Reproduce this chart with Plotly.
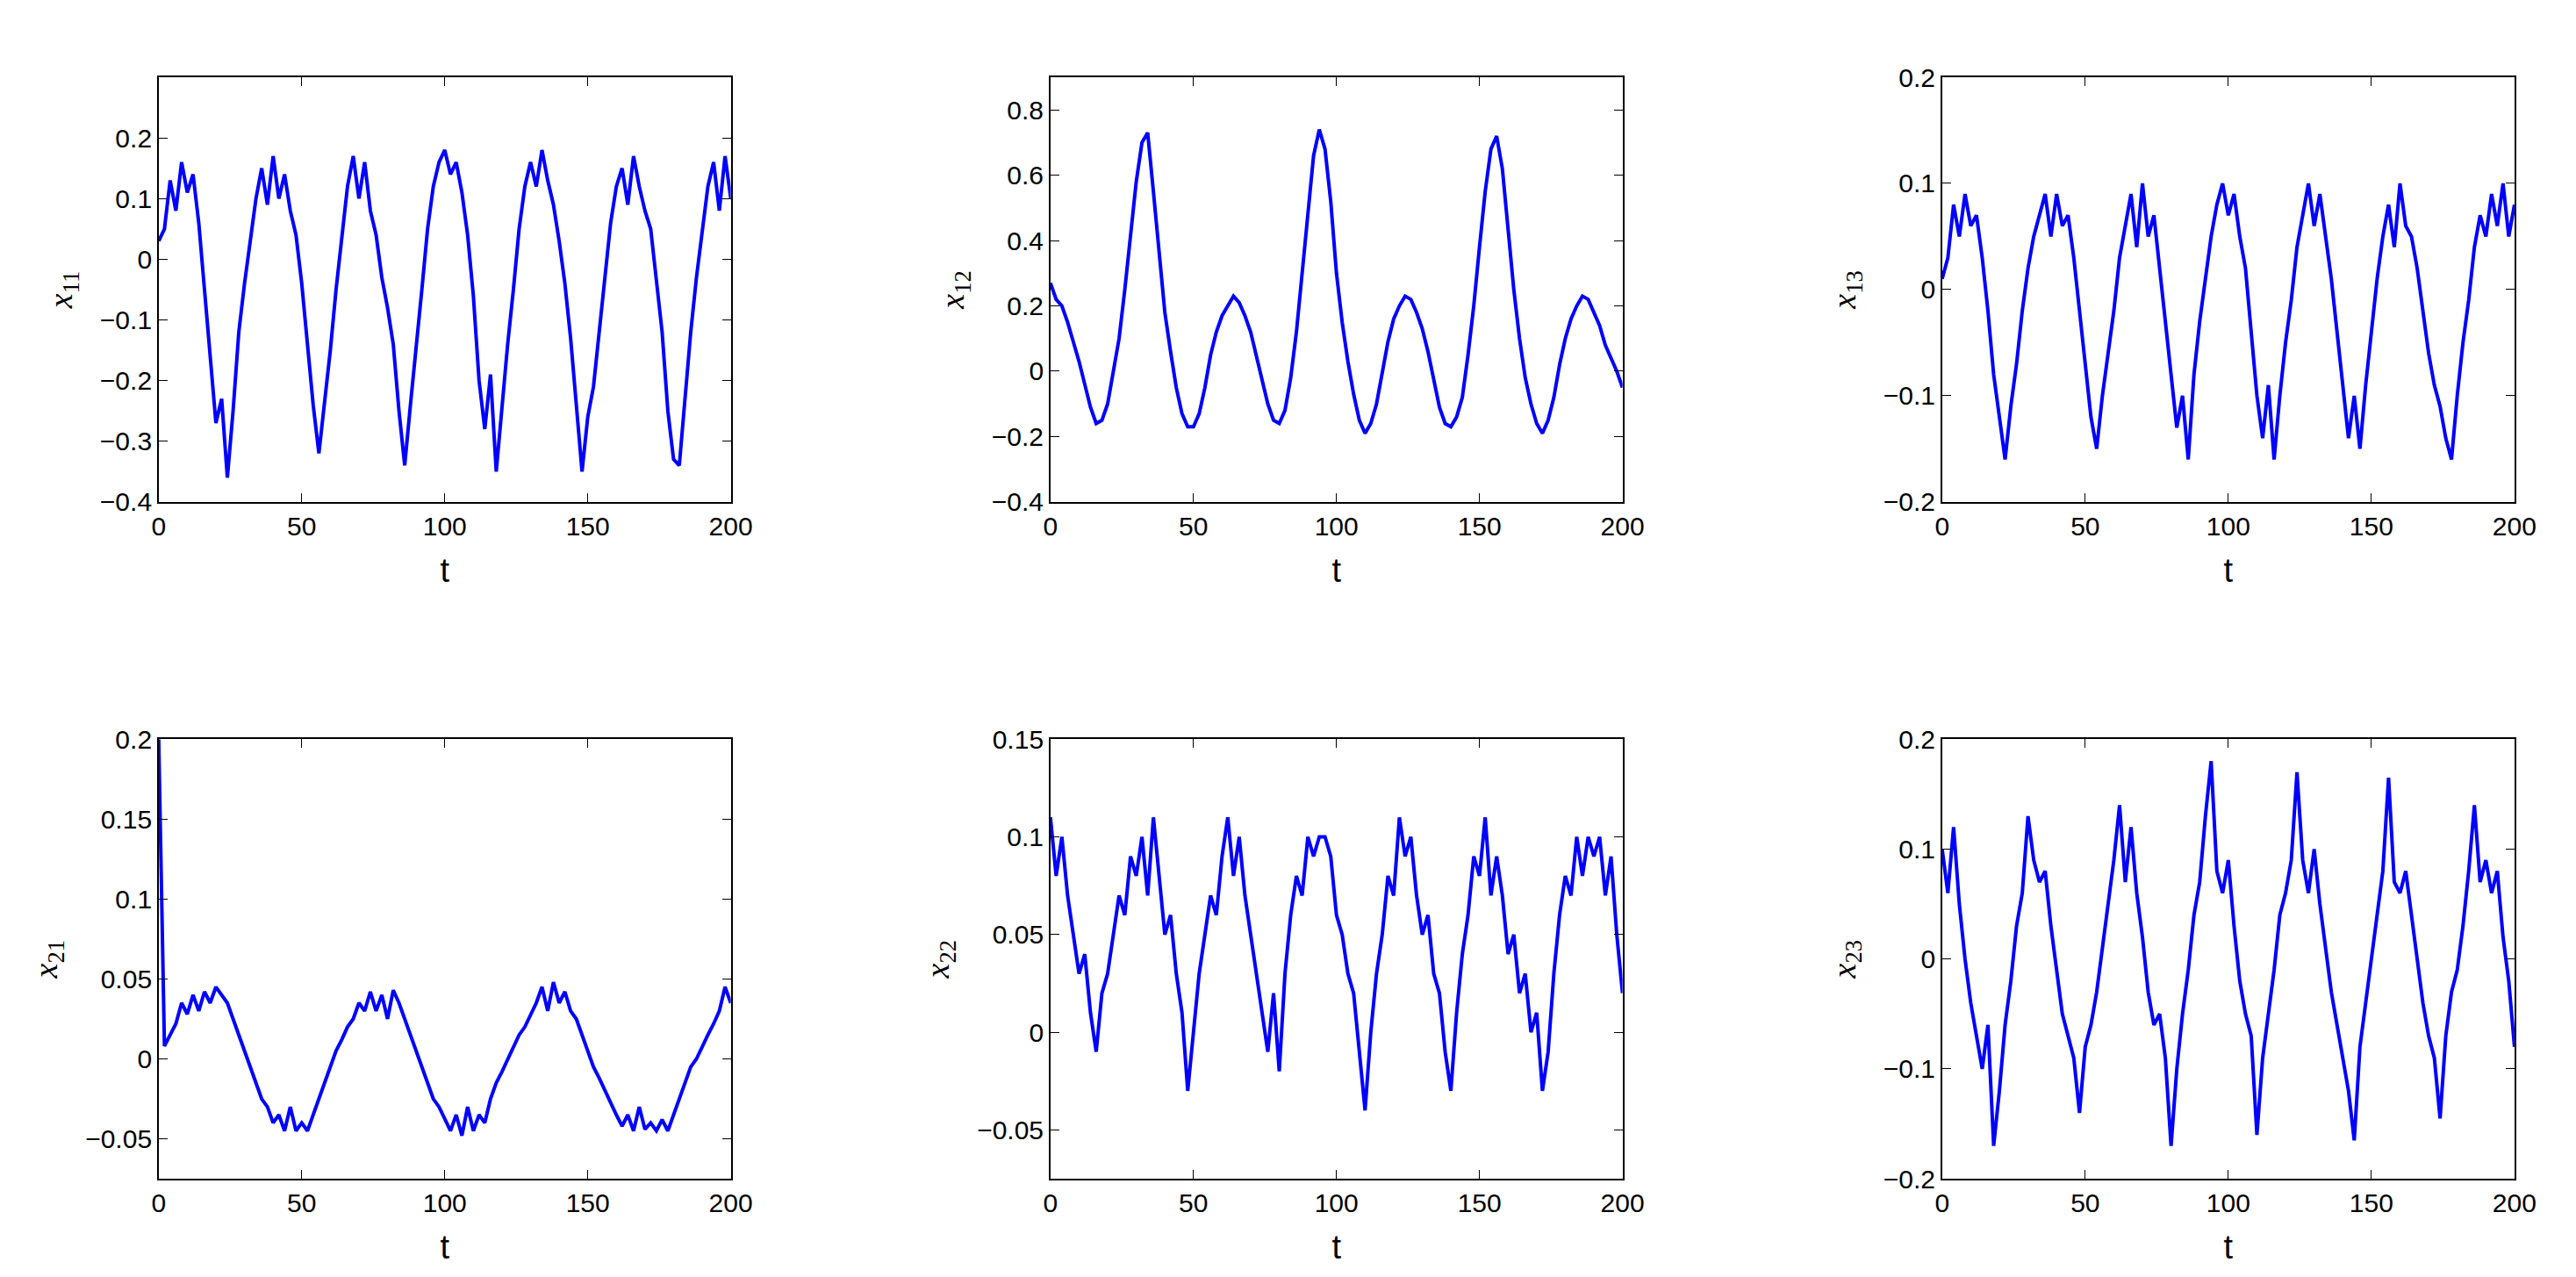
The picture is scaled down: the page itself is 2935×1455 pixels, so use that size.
import numpy as np
import plotly.graph_objects as go
from plotly.subplots import make_subplots

# values read at t = 0, 2, 4, ..., 200
x11 = [0.03, 0.05, 0.13, 0.08, 0.16, 0.11, 0.14, 0.06, -0.05, -0.16, -0.27, -0.23, -0.36, -0.25, -0.12, -0.04,
       0.03, 0.10, 0.15, 0.09, 0.17, 0.10, 0.14, 0.08, 0.04, -0.04, -0.14, -0.24, -0.32, -0.24, -0.15, -0.05,
       0.04, 0.12, 0.17, 0.10, 0.16, 0.08, 0.04, -0.03, -0.08, -0.14, -0.25, -0.34, -0.24, -0.15, -0.05, 0.05,
       0.12, 0.16, 0.18, 0.14, 0.16, 0.11, 0.04, -0.06, -0.20, -0.28, -0.19, -0.35, -0.24, -0.14, -0.05, 0.05,
       0.12, 0.16, 0.12, 0.18, 0.13, 0.09, 0.03, -0.04, -0.13, -0.24, -0.35, -0.26, -0.21, -0.12, -0.03, 0.06,
       0.12, 0.15, 0.09, 0.17, 0.12, 0.08, 0.05, -0.03, -0.12, -0.25, -0.33, -0.34, -0.23, -0.12, -0.03, 0.05,
       0.12, 0.16, 0.08, 0.17, 0.10]
x12 = [0.27, 0.22, 0.20, 0.15, 0.09, 0.03, -0.04, -0.11, -0.16, -0.15, -0.10, 0.00, 0.10, 0.25, 0.42, 0.58,
       0.70, 0.73, 0.55, 0.35, 0.18, 0.06, -0.05, -0.13, -0.17, -0.17, -0.13, -0.05, 0.05, 0.12, 0.17, 0.20,
       0.23, 0.21, 0.17, 0.12, 0.05, -0.03, -0.10, -0.15, -0.16, -0.12, -0.02, 0.12, 0.30, 0.50, 0.66, 0.74,
       0.68, 0.52, 0.30, 0.15, 0.03, -0.07, -0.15, -0.19, -0.16, -0.10, 0.00, 0.09, 0.16, 0.20, 0.23, 0.22,
       0.18, 0.13, 0.06, -0.03, -0.11, -0.16, -0.17, -0.14, -0.08, 0.05, 0.20, 0.38, 0.55, 0.68, 0.72, 0.62,
       0.42, 0.25, 0.10, -0.02, -0.10, -0.16, -0.19, -0.15, -0.08, 0.02, 0.10, 0.16, 0.20, 0.23, 0.22, 0.18,
       0.14, 0.08, 0.04, 0.00, -0.05]
x13 = [0.01, 0.03, 0.08, 0.05, 0.09, 0.06, 0.07, 0.03, -0.02, -0.08, -0.12, -0.16, -0.11, -0.07, -0.02, 0.02,
       0.05, 0.07, 0.09, 0.05, 0.09, 0.06, 0.07, 0.03, -0.02, -0.07, -0.12, -0.15, -0.10, -0.06, -0.02, 0.03,
       0.06, 0.09, 0.04, 0.10, 0.05, 0.07, 0.02, -0.03, -0.08, -0.13, -0.10, -0.16, -0.08, -0.03, 0.01, 0.05,
       0.08, 0.10, 0.07, 0.09, 0.05, 0.02, -0.04, -0.10, -0.14, -0.09, -0.16, -0.10, -0.05, -0.01, 0.04, 0.07,
       0.10, 0.06, 0.09, 0.05, 0.01, -0.04, -0.09, -0.14, -0.10, -0.15, -0.09, -0.04, 0.01, 0.05, 0.08, 0.04,
       0.10, 0.06, 0.05, 0.02, -0.02, -0.06, -0.09, -0.11, -0.14, -0.16, -0.10, -0.05, -0.01, 0.04, 0.07, 0.05,
       0.09, 0.06, 0.10, 0.05, 0.08]
x21 = [0.2, 0.008, 0.015, 0.022, 0.035, 0.028, 0.04, 0.03, 0.042, 0.035, 0.045, 0.04, 0.035, 0.025, 0.015,
       0.005, -0.005, -0.015, -0.025, -0.03, -0.04, -0.035, -0.045, -0.03, -0.045, -0.04, -0.045, -0.035,
       -0.025, -0.015, -0.005, 0.005, 0.012, 0.02, 0.025, 0.035, 0.03, 0.042, 0.03, 0.04, 0.025, 0.043, 0.035,
       0.025, 0.015, 0.005, -0.005, -0.015, -0.025, -0.03, -0.038, -0.045, -0.035, -0.048, -0.03, -0.045,
       -0.035, -0.04, -0.025, -0.015, -0.008, 0.0, 0.008, 0.015, 0.02, 0.028, 0.035, 0.045, 0.03, 0.048, 0.035,
       0.042, 0.03, 0.025, 0.015, 0.005, -0.005, -0.012, -0.02, -0.028, -0.035, -0.042, -0.035, -0.045, -0.03,
       -0.044, -0.04, -0.045, -0.038, -0.045, -0.035, -0.025, -0.015, -0.005, 0.0, 0.008, 0.015, 0.022, 0.03,
       0.045, 0.035]
x22 = [0.11, 0.08, 0.10, 0.07, 0.05, 0.03, 0.04, 0.01, -0.01, 0.02, 0.03, 0.05, 0.07, 0.06, 0.09, 0.08,
       0.10, 0.07, 0.11, 0.08, 0.05, 0.06, 0.03, 0.01, -0.03, 0.00, 0.03, 0.05, 0.07, 0.06, 0.09, 0.11,
       0.08, 0.10, 0.07, 0.05, 0.03, 0.01, -0.01, 0.02, -0.02, 0.03, 0.06, 0.08, 0.07, 0.10, 0.09, 0.10,
       0.10, 0.09, 0.06, 0.05, 0.03, 0.02, -0.01, -0.04, 0.00, 0.03, 0.05, 0.08, 0.07, 0.11, 0.09, 0.10,
       0.07, 0.05, 0.06, 0.03, 0.02, -0.01, -0.03, 0.01, 0.04, 0.06, 0.09, 0.08, 0.11, 0.07, 0.09, 0.07,
       0.04, 0.05, 0.02, 0.03, 0.00, 0.01, -0.03, -0.01, 0.03, 0.06, 0.08, 0.07, 0.10, 0.08, 0.10, 0.09,
       0.10, 0.07, 0.09, 0.05, 0.02]
x23 = [0.10, 0.06, 0.12, 0.05, 0.00, -0.04, -0.07, -0.10, -0.06, -0.17, -0.12, -0.06, -0.02, 0.03, 0.06, 0.13,
       0.09, 0.07, 0.08, 0.03, -0.01, -0.05, -0.07, -0.09, -0.14, -0.08, -0.06, -0.03, 0.01, 0.05, 0.09, 0.14,
       0.07, 0.12, 0.06, 0.02, -0.03, -0.06, -0.05, -0.09, -0.17, -0.10, -0.05, -0.01, 0.04, 0.07, 0.13, 0.18,
       0.08, 0.06, 0.09, 0.03, -0.02, -0.05, -0.07, -0.16, -0.09, -0.05, -0.01, 0.04, 0.06, 0.09, 0.17, 0.09,
       0.06, 0.10, 0.05, 0.01, -0.03, -0.06, -0.09, -0.12, -0.165, -0.08, -0.04, 0.00, 0.04, 0.08, 0.165, 0.07,
       0.06, 0.08, 0.04, 0.00, -0.04, -0.07, -0.09, -0.145, -0.07, -0.03, -0.01, 0.03, 0.08, 0.14, 0.07, 0.09,
       0.06, 0.08, 0.02, -0.02, -0.08]

series = [x11, x12, x13, x21, x22, x23]
names = ['11', '12', '13', '21', '22', '23']
y_ranges = [[-0.4, 0.3], [-0.4, 0.9], [-0.2, 0.2], [-0.075, 0.2], [-0.075, 0.15], [-0.2, 0.2]]
y_ticks = [[-0.4, -0.3, -0.2, -0.1, 0, 0.1, 0.2],
           [-0.4, -0.2, 0, 0.2, 0.4, 0.6, 0.8],
           [-0.2, -0.1, 0, 0.1, 0.2],
           [-0.05, 0, 0.05, 0.1, 0.15, 0.2],
           [-0.05, 0, 0.05, 0.1, 0.15],
           [-0.2, -0.1, 0, 0.1, 0.2]]
x_ticks = [0, 50, 100, 150, 200]

x_domains = [[0.0568, 0.2814], [0.4069, 0.6315], [0.757, 0.9817]]
y_domains = [[0.615, 0.955], [0.073, 0.425]]

fig = make_subplots(rows=2, cols=3)
axis_style = dict(showgrid=False, zeroline=False, showline=True, linecolor='black',
                  linewidth=1.5, mirror='allticks', ticks='inside', ticklen=10,
                  tickcolor='black', tickfont=dict(family='Liberation Sans', size=30, color='black'))

for i, (y, name) in enumerate(zip(series, names)):
    r, c = i // 3 + 1, i % 3 + 1
    t = np.linspace(0, 200, len(y))
    fig.add_trace(go.Scatter(x=t, y=y, mode='lines', line=dict(color='rgb(0,0,255)', width=4),
                             showlegend=False), row=r, col=c)
    fig.update_xaxes(range=[0, 200], tickvals=x_ticks, domain=x_domains[c - 1],
                     title=dict(text='t', font=dict(family='Liberation Sans', size=38, color='black'),
                                standoff=22),
                     **axis_style, row=r, col=c)
    fig.update_yaxes(range=y_ranges[i], tickvals=y_ticks[i], domain=y_domains[r - 1],
                     title=dict(text='<i>x</i><sub>%s</sub>' % name,
                                font=dict(family='Liberation Serif', size=38, color='black'), standoff=20),
                     **axis_style, row=r, col=c)

fig.update_layout(width=2935, height=1455, plot_bgcolor='white', paper_bgcolor='white',
                  margin=dict(l=0, r=0, t=0, b=0))
fig.write_html("out.html")
